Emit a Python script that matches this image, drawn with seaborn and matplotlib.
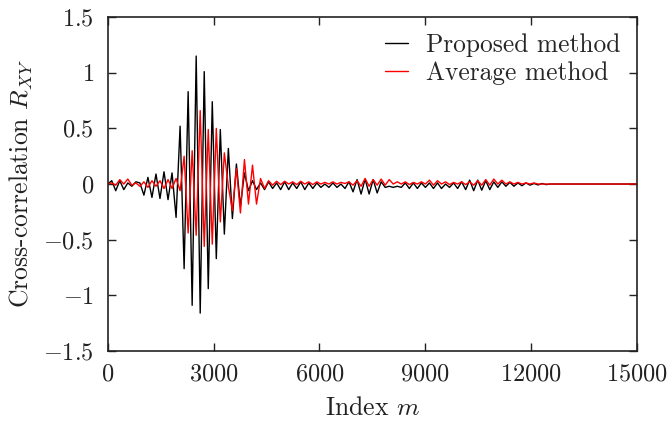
import numpy as np
import matplotlib
matplotlib.use("Agg")
import matplotlib.pyplot as plt
from matplotlib.ticker import FuncFormatter
import seaborn as sns

# sample index (one value every half oscillation), then the flat tail out to 15000
m = np.append(np.arange(0, 12700, 114), 15000)

proposed = [
    0.00, 0.03, -0.06, 0.03, -0.05, 0.01, -0.02, 0.02, 0.01, -0.10,
    0.06, -0.12, 0.09, -0.13, 0.11, -0.14, 0.10, -0.30, 0.52, -0.76,
    0.83, -1.09, 1.15, -1.16, 1.01, -0.94, 0.74, -0.67, 0.49, -0.45,
    0.32, -0.31, 0.18, -0.20, 0.10, -0.06, 0.03, -0.05, 0.01, -0.05,
    0.02, -0.04, 0.01, -0.05, 0.02, -0.05, 0.01, -0.04, 0.02, -0.05,
    0.01, -0.04, 0.01, -0.03, 0.00, -0.03, 0.01, -0.03, 0.00, -0.04,
    0.02, -0.07, 0.04, -0.09, 0.045, -0.09, 0.04, -0.08, 0.02, -0.03,
    -0.02, -0.03, -0.02, -0.03, 0.01, -0.04, 0.01, -0.04, 0.01, -0.03,
    0.01, -0.04, 0.01, -0.04, 0.00, -0.03, 0.01, -0.04, 0.02, -0.05,
    0.035, -0.06, 0.035, -0.055, 0.03, -0.05, 0.02, -0.03, 0.02, -0.02,
    0.015, -0.02, 0.01, -0.015, 0.01, -0.01, 0.005, -0.008, 0.005, -0.005,
    0.0, 0.0, 0.0,
]

average = [
    0.00, 0.01, -0.01, 0.04, 0.00, 0.045, -0.01, 0.01, -0.02, 0.02,
    -0.03, 0.03, -0.02, 0.03, -0.04, 0.04, -0.04, 0.05, -0.06, 0.25,
    -0.44, 0.30, -0.46, 0.66, -0.56, 0.49, -0.54, 0.50, -0.34, 0.28,
    -0.02, -0.24, 0.14, -0.26, 0.22, -0.18, 0.17, -0.18, 0.05, -0.04,
    0.03, -0.01, 0.025, -0.005, 0.025, 0.0, 0.02, -0.005, 0.025, 0.0,
    0.02, -0.005, 0.02, 0.0, 0.015, 0.0, 0.02, 0.0, 0.015, 0.005,
    0.02, -0.01, 0.03, -0.02, 0.05, -0.02, 0.04, -0.01, 0.045, -0.01,
    0.04, 0.0, 0.02, 0.0, 0.02, -0.005, 0.015, 0.0, 0.02, 0.0,
    0.035, -0.01, 0.03, 0.0, 0.02, -0.005, 0.015, 0.0, 0.02, -0.005,
    0.02, -0.01, 0.03, -0.01, 0.04, -0.01, 0.045, 0.0, 0.035, 0.0,
    0.02, 0.0, 0.015, 0.0, 0.01, 0.0, 0.01, 0.0, 0.0, 0.0,
    0.0, 0.0, 0.0,
]

xticks = [0, 3000, 6000, 9000, 12000, 15000]
yticks = [-1.5, -1, -0.5, 0, 0.5, 1, 1.5]

sns.set_style("ticks")
plt.rcParams["font.family"] = "serif"
plt.rcParams["font.serif"] = ["cmr10"]
plt.rcParams["mathtext.fontset"] = "cm"
plt.rcParams["axes.formatter.use_mathtext"] = True
plt.rcParams["axes.unicode_minus"] = True

fig, ax = plt.subplots(figsize=(6.69, 4.28), dpi=100)
fig.subplots_adjust(left=0.161, right=0.952, top=0.960, bottom=0.180)

sns.lineplot(x=m, y=proposed, color="black", lw=1.0, estimator=None,
             label="Proposed method", ax=ax)
sns.lineplot(x=m, y=average, color="red", lw=1.0, estimator=None,
             label="Average method", ax=ax)

ax.set_xlim(0, 15000)
ax.set_ylim(-1.5, 1.5)
ax.set_xticks(xticks)
ax.set_yticks(yticks)
ax.yaxis.set_major_formatter(FuncFormatter(lambda v, p: f"${v:g}$"))
ax.xaxis.set_major_formatter(FuncFormatter(lambda v, p: f"${v:g}$"))
ax.tick_params(axis="both", direction="in", length=6, width=1, top=True, right=True,
               labelsize=17.5, colors="#222222")
ax.tick_params(axis="y", pad=10)
ax.tick_params(axis="x", pad=9)
for s in ax.spines.values():
    s.set_linewidth(1.2)
    s.set_color("#222222")

ax.set_xlabel("Index $m$", fontsize=18.5, color="#222222", labelpad=8)
ax.set_ylabel("Cross-correlation $R_{XY}$", fontsize=18.5, color="#222222", labelpad=6)

leg = ax.legend(loc="upper right", frameon=False, fontsize=18.3,
                handlelength=0.9, handletextpad=0.7, labelspacing=0.15,
                borderaxespad=0.25)

fig.savefig("out.png", dpi=100)
